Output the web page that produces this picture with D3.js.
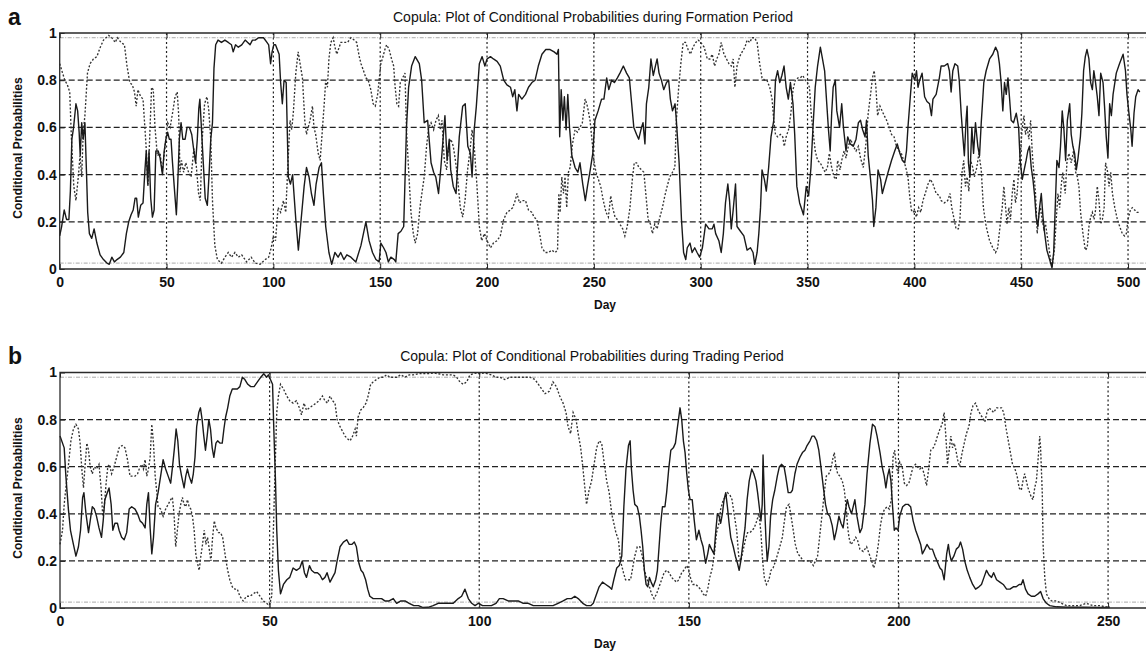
<!DOCTYPE html>
<html>
<head>
<meta charset="utf-8">
<script src="https://cdn.jsdelivr.net/npm/d3@7"></script>
<style>
  html, body { margin: 0; padding: 0; background: #fff; }
  svg { display: block; }
  text { font-family: "Liberation Sans", Arial, Helvetica, sans-serif; fill: #111; }
</style>
</head>
<body>
<svg id="chart" width="1146" height="654"></svg>
<script>
// ---------------- DATA ----------------
const titleA = "Copula: Plot of Conditional Probabilities during Formation Period";
const titleB = "Copula: Plot of Conditional Probabilities during Trading Period";
const yLabel = "Conditional Probabilities";
const xLabel = "Day";
const yTicks = [0, 0.2, 0.4, 0.6, 0.8, 1];
const yTickLabels = ["0", "0.2", "0.4", "0.6", "0.8", "1"];
const xTicksA = [0, 50, 100, 150, 200, 250, 300, 350, 400, 450, 500];
const xTicksB = [0, 50, 100, 150, 200, 250];
const bandLevels = [0.025, 0.98];

// Panel a: [day, probability]
const aSolid = [[0,0.14],[0.9,0.18],[2.1,0.25],[3.2,0.21],[4.3,0.21],[5,0.33],[5.7,0.55],[6.5,0.6],[7.6,0.7],[8.4,0.67],[9.1,0.58],[9.6,0.48],[10.3,0.62],[11,0.55],[11.8,0.62],[12.5,0.42],[13.1,0.24],[13.9,0.15],[15,0.13],[16.1,0.17],[17.4,0.11],[18.9,0.06],[20.5,0.04],[22.1,0.025],[23.2,0.02],[24.4,0.05],[25.6,0.03],[26.8,0.04],[28.4,0.05],[30,0.07],[31.2,0.15],[32.3,0.2],[33.4,0.23],[34.4,0.25],[35.3,0.3],[36,0.3],[36.8,0.22],[37.9,0.27],[39,0.28],[39.9,0.42],[40.5,0.5],[41.2,0.36],[41.8,0.5],[42.6,0.3],[43.4,0.22],[44.2,0.25],[45,0.5],[46.1,0.5],[47,0.47],[48.1,0.4],[48.9,0.5],[49.7,0.55],[50.5,0.58],[51.3,0.55],[52.1,0.55],[52.8,0.45],[53.6,0.35],[54.6,0.23],[55.2,0.35],[56,0.55],[56.8,0.62],[57.6,0.55],[58.7,0.55],[59.6,0.6],[60.7,0.6],[61.8,0.57],[62.8,0.5],[63.6,0.45],[64.4,0.55],[65.1,0.68],[65.6,0.72],[66.2,0.62],[67.2,0.45],[68.1,0.3],[69.1,0.27],[69.9,0.4],[70.7,0.55],[71.5,0.62],[72.2,0.85],[73,0.95],[74.1,0.97],[75.7,0.96],[77.3,0.97],[78.9,0.96],[80.4,0.95],[81.2,0.92],[82.3,0.95],[83.6,0.94],[85.2,0.95],[86.8,0.97],[88,0.96],[89.1,0.95],[90.2,0.97],[91.5,0.97],[93.1,0.98],[95.4,0.98],[97,0.96],[97.8,0.95],[98.7,0.87],[99.4,0.92],[100.2,0.95],[101,0.95],[102.7,0.91],[103.4,0.79],[104.2,0.7],[105,0.8],[106,0.79],[107,0.39],[108,0.36],[109,0.4],[110.5,0.21],[111.7,0.08],[113,0.21],[114.4,0.35],[115.5,0.43],[116.7,0.39],[117.8,0.32],[119,0.27],[120,0.36],[121.4,0.43],[122.5,0.45],[123.4,0.32],[124.5,0.18],[126,0.07],[127.3,0.02],[128.8,0.07],[130.3,0.05],[131.5,0.07],[133,0.04],[134.4,0.06],[136.3,0.05],[138.6,0.03],[141,0.1],[143.3,0.2],[144.8,0.12],[146.4,0.07],[148,0.04],[149.5,0.03],[150.3,0.11],[151.6,0.09],[152.7,0.07],[153.8,0.03],[155,0.05],[156.6,0.04],[157.3,0.03],[158.4,0.15],[159.7,0.16],[161,0.18],[162.3,0.6],[163.3,0.77],[164.7,0.86],[166.4,0.9],[168.3,0.87],[169.4,0.8],[170.6,0.62],[172.2,0.63],[173.8,0.45],[175,0.41],[176,0.39],[177.3,0.32],[178.4,0.43],[179.5,0.56],[180.3,0.65],[181.3,0.46],[182.3,0.55],[183,0.42],[184.2,0.35],[185.5,0.32],[187,0.56],[188.6,0.69],[189.8,0.7],[191,0.52],[192.2,0.49],[193,0.39],[194,0.59],[195,0.69],[196.4,0.87],[197.7,0.9],[199,0.86],[200,0.89],[201.6,0.9],[203,0.89],[204.7,0.88],[206.2,0.86],[207.8,0.8],[209.3,0.78],[211,0.77],[212,0.73],[213,0.76],[214,0.67],[214.8,0.74],[216.3,0.72],[218,0.74],[219.4,0.77],[221,0.79],[222.5,0.8],[224,0.86],[225.7,0.91],[227.5,0.93],[229.5,0.93],[231.4,0.92],[232.7,0.91],[233.4,0.93],[234,0.56],[234.7,0.76],[235.5,0.63],[236.2,0.73],[237,0.59],[237.8,0.74],[238.6,0.6],[239.7,0.48],[241.2,0.43],[242.5,0.41],[243.5,0.45],[244.8,0.36],[246,0.29],[247,0.35],[248.3,0.42],[249.5,0.49],[250.5,0.63],[252,0.67],[253.6,0.72],[254.7,0.72],[256,0.81],[257,0.76],[258.3,0.8],[259.6,0.79],[261,0.81],[262.2,0.83],[263.8,0.86],[265.3,0.83],[266.6,0.81],[267.7,0.7],[268.7,0.6],[270,0.57],[271,0.55],[272.3,0.6],[273,0.62],[273.9,0.53],[274.6,0.7],[275.7,0.77],[276.7,0.89],[277.8,0.82],[278.8,0.86],[279.6,0.89],[280.5,0.83],[281.6,0.8],[282.7,0.76],[284,0.79],[285,0.8],[285.8,0.72],[286.8,0.67],[288,0.7],[288.6,0.63],[289.9,0.45],[291,0.21],[292,0.07],[293,0.04],[293.7,0.09],[295,0.11],[296,0.07],[297.2,0.09],[298.3,0.07],[299.5,0.05],[300.8,0.09],[302.3,0.19],[303.9,0.17],[305.4,0.17],[306.2,0.19],[307,0.15],[308.5,0.12],[309.6,0.07],[310.6,0.15],[311.6,0.28],[312.7,0.36],[313.5,0.29],[314.3,0.17],[315.2,0.25],[316.3,0.36],[317,0.18],[318.6,0.16],[320.2,0.14],[321.7,0.08],[323.3,0.09],[324.5,0.07],[325.3,0.02],[326.4,0.07],[327.2,0.15],[328,0.26],[328.7,0.42],[329.8,0.38],[330.7,0.33],[331.8,0.43],[332.9,0.56],[334.2,0.63],[335,0.8],[336,0.84],[337,0.79],[338,0.82],[339,0.86],[340,0.77],[341,0.72],[342,0.79],[343.2,0.7],[344,0.57],[345,0.35],[346.3,0.28],[347.4,0.25],[348.1,0.23],[349.4,0.35],[350.5,0.31],[351.6,0.43],[352.5,0.59],[353.6,0.77],[354.7,0.86],[356,0.94],[357,0.89],[358,0.84],[359,0.7],[359.8,0.59],[360.6,0.5],[361.3,0.66],[362,0.77],[363,0.8],[363.7,0.67],[365,0.6],[366,0.7],[366.8,0.6],[368,0.5],[368.8,0.56],[370,0.53],[371.4,0.52],[372.7,0.55],[373.8,0.62],[374.8,0.63],[375.8,0.59],[376.9,0.56],[377.6,0.63],[378.4,0.48],[379.5,0.38],[380.4,0.29],[381,0.18],[382,0.26],[383,0.42],[384.2,0.38],[385,0.32],[386.2,0.36],[387.7,0.41],[389.3,0.46],[390.8,0.5],[392,0.53],[393.2,0.49],[394.4,0.46],[395.5,0.45],[396.3,0.5],[397,0.6],[398.1,0.73],[399,0.83],[400.2,0.8],[401,0.84],[401.7,0.77],[402.5,0.8],[403.6,0.83],[404.8,0.73],[405.9,0.71],[407.1,0.7],[408,0.65],[408.7,0.72],[410.2,0.74],[411.7,0.81],[412.5,0.86],[414,0.86],[415.6,0.87],[416.4,0.84],[417.2,0.75],[418,0.84],[419,0.87],[420.3,0.86],[421,0.8],[421.9,0.66],[422.7,0.56],[423.4,0.48],[424.2,0.63],[424.7,0.69],[425.3,0.45],[426,0.39],[426.9,0.6],[427.7,0.49],[428.6,0.62],[429.7,0.52],[430.5,0.48],[431.3,0.62],[432.5,0.79],[433.6,0.84],[435.2,0.89],[436.7,0.91],[438,0.94],[439,0.92],[439.8,0.87],[440.6,0.79],[441.4,0.67],[442.2,0.79],[443,0.74],[443.8,0.81],[444.5,0.73],[445.3,0.63],[446.4,0.62],[447.7,0.66],[448.8,0.6],[449.5,0.46],[450.5,0.38],[451.6,0.43],[452.3,0.46],[453.1,0.5],[453.9,0.52],[454.7,0.43],[455.5,0.38],[456.3,0.31],[457,0.22],[457.8,0.18],[458.6,0.26],[459.4,0.32],[460.2,0.22],[461,0.15],[462,0.08],[463.3,0.04],[464.4,0.005],[465.2,0.07],[466,0.28],[466.7,0.46],[467.7,0.43],[468.4,0.52],[469.2,0.67],[470,0.59],[470.8,0.46],[471.6,0.63],[472.7,0.7],[473.4,0.57],[474.2,0.52],[475,0.49],[475.8,0.42],[476.6,0.47],[477.7,0.56],[478.4,0.66],[479.2,0.84],[480,0.9],[480.8,0.93],[481.7,0.89],[482.5,0.79],[483.3,0.76],[484,0.84],[484.8,0.79],[485.6,0.73],[486.4,0.65],[487.2,0.83],[488.3,0.79],[489,0.69],[489.8,0.56],[490.6,0.47],[491.4,0.7],[492.2,0.65],[493,0.74],[494.5,0.83],[496,0.87],[497.7,0.91],[498.8,0.84],[499.5,0.74],[500.3,0.67],[501.3,0.59],[501.9,0.52],[502.8,0.66],[503.6,0.73],[504.7,0.76],[505.5,0.75]];

const aDotted = [[0,0.87],[1,0.84],[2.4,0.8],[3.6,0.78],[4.7,0.75],[5.5,0.55],[6.6,0.35],[7.6,0.29],[8.7,0.39],[9.5,0.48],[10.3,0.39],[11,0.58],[11.8,0.65],[13,0.83],[14.2,0.87],[15.8,0.89],[17.4,0.9],[19,0.94],[20.5,0.97],[22.9,0.99],[24.4,0.98],[26,0.96],[27,0.98],[28.7,0.96],[30.3,0.95],[31.5,0.86],[32.8,0.79],[34,0.78],[35,0.75],[35.8,0.69],[36.6,0.76],[37.9,0.73],[39,0.72],[40,0.58],[40.5,0.51],[41.3,0.35],[42,0.53],[43,0.77],[43.8,0.76],[44.6,0.6],[45.7,0.48],[47,0.49],[48,0.41],[49.2,0.51],[50.5,0.62],[51.7,0.6],[52.8,0.66],[54,0.73],[55,0.75],[55.7,0.65],[56.3,0.41],[57,0.46],[58,0.41],[59,0.45],[60.3,0.41],[61.5,0.39],[62.8,0.51],[63.9,0.44],[65,0.32],[65.8,0.29],[66.7,0.55],[67.8,0.7],[68.9,0.73],[69.7,0.68],[70.7,0.55],[71.5,0.29],[72.6,0.1],[73.8,0.04],[75.7,0.025],[77.3,0.05],[78.9,0.07],[80.4,0.05],[82,0.07],[83.6,0.05],[85.2,0.06],[87.5,0.03],[89.6,0.05],[91.5,0.025],[93.8,0.02],[96.2,0.04],[97.8,0.05],[99,0.09],[100,0.14],[101,0.12],[102.2,0.26],[103.4,0.24],[104.7,0.29],[105.8,0.24],[106.9,0.46],[107.8,0.63],[108.6,0.59],[109.4,0.67],[110.5,0.83],[111.6,0.92],[112.5,0.87],[113.6,0.81],[114.7,0.63],[115.5,0.57],[116.3,0.6],[117.2,0.63],[118.3,0.69],[119,0.6],[119.8,0.57],[121,0.49],[121.9,0.46],[122.7,0.56],[123.8,0.7],[124.5,0.8],[125.3,0.77],[126,0.89],[126.9,0.96],[128,0.98],[128.8,0.94],[129.7,0.91],[130.8,0.94],[131.6,0.96],[133.1,0.96],[134.7,0.96],[136.3,0.98],[137.8,0.97],[139,0.96],[140.2,0.9],[141,0.87],[142.2,0.84],[143.3,0.81],[144.4,0.8],[145.6,0.76],[146.7,0.7],[147.7,0.69],[148.8,0.74],[149.5,0.8],[150.3,0.87],[151,0.89],[152.2,0.93],[153,0.95],[154.2,0.93],[155.3,0.89],[156.3,0.86],[157,0.77],[157.8,0.7],[158.6,0.69],[159.4,0.79],[160.5,0.81],[161.6,0.83],[162.3,0.59],[163.3,0.42],[164.4,0.24],[165.5,0.15],[166.4,0.11],[167.5,0.15],[168.6,0.26],[169.5,0.32],[170.6,0.39],[171.7,0.52],[172.7,0.6],[173.8,0.62],[175,0.59],[176.1,0.63],[177.2,0.65],[178.1,0.59],[178.9,0.63],[180,0.46],[181.1,0.42],[182,0.52],[183.1,0.55],[184.2,0.52],[185.2,0.46],[186.3,0.38],[187.5,0.26],[188.6,0.22],[189.7,0.29],[190.9,0.42],[192,0.5],[193,0.59],[194,0.52],[195.3,0.35],[196.4,0.18],[197.5,0.12],[198.8,0.15],[200,0.12],[201.6,0.09],[203,0.11],[204.7,0.12],[206.2,0.14],[207.8,0.21],[209.3,0.24],[210.9,0.25],[212,0.26],[213.2,0.29],[214,0.32],[215.2,0.28],[216.3,0.29],[218,0.29],[219.4,0.25],[221,0.24],[222,0.22],[223.3,0.21],[224.6,0.15],[225.7,0.09],[227.2,0.07],[228.8,0.07],[230.3,0.08],[231.9,0.07],[233,0.08],[233.6,0.32],[234.2,0.24],[235,0.39],[235.8,0.32],[236.5,0.39],[237.3,0.26],[238.1,0.41],[238.9,0.43],[240,0.53],[241.2,0.59],[242.3,0.58],[243.5,0.6],[244.6,0.62],[245.9,0.72],[246.7,0.7],[247.4,0.67],[248.2,0.63],[249.3,0.53],[250,0.46],[251,0.41],[252.1,0.38],[253.2,0.35],[254.4,0.29],[255.7,0.24],[256.8,0.22],[257.9,0.31],[258.8,0.26],[259.9,0.22],[261,0.21],[262.2,0.19],[263.5,0.17],[264.5,0.14],[265.6,0.18],[266.9,0.26],[268,0.38],[268.9,0.45],[270,0.45],[271.1,0.43],[272.3,0.42],[273.4,0.41],[274.3,0.32],[275.4,0.21],[276.5,0.19],[277.4,0.15],[278.5,0.19],[279.6,0.17],[280.9,0.22],[282.1,0.26],[283.2,0.31],[284.3,0.35],[285.5,0.39],[286.8,0.41],[287.9,0.43],[288.6,0.63],[289.7,0.77],[290.7,0.87],[291.8,0.96],[292.9,0.96],[294.1,0.93],[295.2,0.91],[296.4,0.94],[297.7,0.96],[298.8,0.97],[300,0.96],[301.6,0.94],[303.1,0.89],[304.3,0.89],[305.4,0.91],[306.5,0.86],[307.5,0.89],[308.5,0.91],[309.6,0.96],[310.9,0.91],[312.1,0.89],[313.2,0.87],[314.3,0.86],[315.2,0.89],[316,0.77],[317,0.86],[318.2,0.9],[319.4,0.92],[320.7,0.94],[321.7,0.97],[323,0.96],[324,0.98],[325.2,0.98],[326.4,0.96],[327.6,0.87],[328.7,0.81],[330,0.8],[331,0.8],[332.3,0.77],[333.4,0.72],[334.2,0.63],[335,0.57],[336,0.56],[337.3,0.57],[338.4,0.56],[339.1,0.52],[340,0.56],[341.1,0.59],[342.2,0.66],[343.2,0.76],[344.3,0.8],[345.5,0.81],[346.6,0.81],[347.8,0.82],[348.9,0.8],[350,0.79],[350.9,0.77],[351.7,0.66],[352.5,0.59],[353.6,0.5],[354.7,0.46],[355.9,0.45],[357.1,0.43],[358.2,0.41],[359.3,0.43],[360.2,0.49],[361.3,0.43],[362.4,0.39],[363.4,0.38],[364.1,0.46],[365.2,0.42],[366,0.46],[367.1,0.5],[368,0.47],[369.1,0.52],[370.2,0.55],[371.4,0.52],[372.7,0.5],[373.8,0.52],[374.8,0.47],[376.1,0.43],[377.3,0.53],[378.4,0.66],[379.5,0.74],[380.4,0.81],[381.2,0.84],[382,0.77],[382.8,0.65],[383.9,0.69],[384.9,0.67],[385.9,0.65],[387,0.63],[388.2,0.6],[389.3,0.57],[390.5,0.56],[391.6,0.52],[392.9,0.5],[393.9,0.49],[395,0.46],[396,0.43],[397,0.39],[397.8,0.31],[398.6,0.25],[399.4,0.24],[400.2,0.25],[400.9,0.22],[402,0.26],[403,0.24],[404,0.29],[405.1,0.32],[406.4,0.36],[407.5,0.38],[408.7,0.36],[410.2,0.32],[411.8,0.31],[412.5,0.29],[414,0.28],[415.6,0.29],[416.7,0.32],[417.5,0.26],[418.4,0.22],[419.5,0.17],[420.6,0.17],[421.4,0.22],[422.3,0.41],[423.1,0.46],[423.9,0.35],[424.7,0.39],[425.5,0.33],[426.3,0.46],[427.3,0.43],[428.1,0.39],[429.2,0.43],[430.2,0.49],[431.3,0.42],[432.3,0.26],[433.6,0.18],[435.2,0.12],[436.7,0.09],[438,0.07],[439,0.09],[440.2,0.19],[441.1,0.26],[441.9,0.35],[442.7,0.26],[443.4,0.19],[444.2,0.26],[445,0.21],[445.8,0.32],[446.6,0.38],[447.3,0.28],[448.1,0.32],[448.9,0.43],[449.7,0.5],[450.5,0.6],[451.3,0.65],[452,0.57],[452.8,0.6],[453.6,0.55],[454.4,0.63],[455.2,0.49],[455.9,0.41],[456.7,0.32],[457.5,0.15],[458.3,0.24],[459,0.26],[459.8,0.21],[460.6,0.17],[461.4,0.19],[462.5,0.12],[463.6,0.05],[464.5,0.01],[465.6,0.09],[466.4,0.21],[467.2,0.32],[468,0.26],[468.8,0.36],[469.5,0.41],[470.6,0.32],[471.4,0.45],[472.3,0.49],[473.4,0.45],[474.5,0.5],[475.5,0.41],[476.3,0.39],[477,0.35],[477.8,0.24],[478.9,0.15],[480,0.08],[480.9,0.09],[481.7,0.18],[482.5,0.22],[483.3,0.24],[484.1,0.21],[484.8,0.25],[485.6,0.35],[486.4,0.29],[487.2,0.19],[488,0.21],[488.8,0.26],[489.5,0.45],[490.3,0.42],[491.1,0.35],[491.9,0.41],[492.7,0.32],[493.8,0.26],[495,0.21],[496.1,0.18],[497.3,0.15],[498.4,0.14],[499.2,0.15],[500,0.21],[501.1,0.25],[502,0.26],[503.1,0.25],[504.2,0.24],[505.2,0.24]];

// Panel b: [day, probability]
const bSolid = [[0,0.73],[1,0.68],[1.4,0.56],[2,0.42],[2.5,0.33],[3.2,0.27],[3.8,0.22],[4.4,0.26],[4.9,0.33],[5.4,0.47],[5.7,0.49],[6.2,0.4],[6.8,0.32],[7.2,0.37],[7.7,0.43],[8.2,0.42],[8.7,0.39],[9.3,0.34],[9.9,0.3],[10.3,0.37],[10.7,0.46],[11.3,0.49],[11.7,0.51],[12.2,0.44],[12.6,0.33],[13.1,0.36],[13.7,0.36],[14.1,0.33],[14.7,0.3],[15.3,0.29],[15.9,0.32],[16.5,0.42],[17.1,0.43],[17.9,0.42],[18.5,0.4],[19.1,0.37],[19.7,0.36],[20.3,0.34],[20.7,0.44],[21.1,0.49],[21.5,0.34],[21.9,0.23],[22.3,0.3],[22.8,0.44],[23.4,0.49],[24,0.56],[24.6,0.63],[25.2,0.59],[25.8,0.56],[26.4,0.53],[26.9,0.61],[27.3,0.68],[27.7,0.76],[28.1,0.71],[28.5,0.61],[29,0.56],[29.6,0.51],[30,0.56],[30.4,0.59],[30.8,0.56],[31.4,0.53],[31.8,0.57],[32.2,0.64],[32.6,0.77],[33.1,0.83],[33.5,0.85],[33.9,0.8],[34.3,0.73],[34.7,0.67],[35.1,0.73],[35.5,0.8],[35.9,0.76],[36.3,0.68],[36.7,0.64],[37.2,0.7],[37.6,0.71],[38.2,0.7],[38.7,0.7],[39.1,0.76],[39.5,0.81],[40,0.85],[40.5,0.9],[41.1,0.93],[41.7,0.93],[42.3,0.93],[42.9,0.94],[43.5,0.98],[44.1,0.97],[44.8,0.95],[45.5,0.94],[46.3,0.94],[47.1,0.96],[47.9,0.98],[48.6,0.995],[49.3,0.98],[49.7,0.99],[50.2,0.97],[50.7,0.95],[51,0.76],[51.4,0.54],[51.7,0.33],[52.1,0.16],[52.6,0.06],[53.3,0.1],[54.1,0.12],[54.8,0.13],[55.6,0.17],[56.4,0.16],[57.2,0.17],[57.8,0.2],[58.3,0.15],[58.8,0.13],[59.5,0.18],[60,0.16],[60.7,0.15],[61.4,0.15],[62,0.14],[62.6,0.12],[63.2,0.13],[63.7,0.15],[64.4,0.11],[65,0.13],[65.6,0.15],[66.1,0.2],[66.8,0.26],[67.6,0.28],[68.4,0.29],[69,0.27],[69.6,0.27],[70.2,0.28],[70.7,0.26],[71.3,0.19],[71.8,0.16],[72.3,0.15],[72.9,0.12],[73.4,0.08],[73.9,0.05],[74.7,0.04],[75.7,0.04],[76.7,0.04],[77.5,0.03],[78.5,0.03],[79.5,0.04],[80.3,0.02],[81.3,0.03],[82.3,0.03],[83.3,0.02],[84.4,0.01],[85.5,0.01],[86.6,0.002],[87.8,0.003],[89,0.01],[90.2,0.02],[91.4,0.02],[92.6,0.02],[93.8,0.02],[95,0.04],[95.8,0.05],[96.6,0.08],[97.4,0.04],[98.2,0.02],[99,0.01],[99.8,0.02],[100.8,0.01],[101.8,0.01],[102.9,0.01],[104,0.02],[104.8,0.04],[105.7,0.04],[106.9,0.03],[108.1,0.03],[109.3,0.03],[110.5,0.02],[111.7,0.02],[112.9,0.01],[114.1,0.01],[115.3,0.01],[116.5,0.01],[117.6,0.01],[118.8,0.02],[120,0.03],[121,0.04],[122,0.04],[122.8,0.05],[123.6,0.04],[124.7,0.02],[125.6,0.01],[126.6,0.01],[127.2,0.02],[127.8,0.05],[128.6,0.09],[129.4,0.11],[130.2,0.1],[131,0.09],[131.6,0.08],[132.1,0.12],[132.8,0.17],[133.4,0.18],[134,0.22],[134.5,0.43],[135,0.59],[135.6,0.69],[136,0.71],[136.3,0.59],[136.7,0.5],[137.1,0.44],[137.7,0.43],[138.2,0.39],[138.6,0.33],[139,0.26],[139.4,0.16],[139.8,0.1],[140.2,0.09],[140.6,0.13],[141,0.11],[141.5,0.09],[142.1,0.12],[142.5,0.16],[142.9,0.26],[143.3,0.36],[143.7,0.43],[144.3,0.43],[144.7,0.49],[145.2,0.59],[145.7,0.67],[146.3,0.68],[146.8,0.7],[147.3,0.77],[147.9,0.85],[148.3,0.8],[148.7,0.71],[149.1,0.66],[149.5,0.57],[149.9,0.5],[150.3,0.46],[150.8,0.46],[151.3,0.37],[151.8,0.29],[152.4,0.33],[152.9,0.29],[153.4,0.26],[154,0.19],[154.5,0.23],[154.9,0.27],[155.4,0.25],[156,0.23],[156.4,0.32],[156.8,0.4],[157.2,0.39],[157.6,0.36],[158,0.4],[158.4,0.46],[158.8,0.49],[159.2,0.43],[159.6,0.36],[160,0.3],[160.6,0.26],[161.1,0.22],[161.6,0.19],[162,0.16],[162.4,0.2],[162.8,0.26],[163.4,0.34],[163.9,0.46],[164.4,0.54],[165,0.59],[165.5,0.57],[166,0.54],[166.4,0.49],[166.8,0.43],[167.2,0.37],[167.5,0.44],[167.7,0.65],[168.1,0.42],[168.4,0.29],[168.7,0.2],[169.1,0.26],[169.5,0.39],[170,0.46],[170.5,0.5],[171.1,0.56],[171.6,0.6],[172.1,0.61],[172.7,0.6],[173.1,0.56],[173.7,0.49],[174.3,0.49],[174.7,0.5],[175.3,0.57],[175.8,0.61],[176.5,0.64],[177.1,0.66],[177.7,0.67],[178.2,0.69],[178.9,0.71],[179.4,0.73],[179.9,0.73],[180.5,0.71],[181,0.67],[181.5,0.6],[182.1,0.51],[182.6,0.44],[183.1,0.4],[183.6,0.39],[184.2,0.35],[184.7,0.29],[185.2,0.33],[185.8,0.39],[186.3,0.36],[186.8,0.34],[187.4,0.42],[187.8,0.46],[188.2,0.43],[188.8,0.4],[189.6,0.46],[190.1,0.39],[190.8,0.32],[191.3,0.34],[192,0.44],[192.5,0.57],[193.2,0.7],[193.8,0.78],[194.4,0.77],[194.9,0.73],[195.6,0.66],[196.1,0.6],[196.6,0.56],[197,0.51],[197.4,0.56],[197.8,0.59],[198.2,0.54],[198.6,0.43],[199,0.33],[199.4,0.34],[199.9,0.33],[200.3,0.39],[201,0.43],[201.7,0.44],[202.3,0.44],[202.9,0.43],[203.5,0.37],[204.1,0.33],[204.7,0.3],[205.3,0.27],[205.7,0.23],[206.3,0.25],[206.8,0.27],[207.5,0.25],[208.1,0.25],[208.7,0.22],[209.2,0.2],[209.9,0.17],[210.4,0.16],[210.9,0.12],[211.5,0.23],[211.9,0.27],[212.2,0.23],[212.6,0.2],[213.2,0.22],[213.8,0.25],[214.4,0.26],[214.8,0.28],[215.3,0.25],[215.8,0.2],[216.4,0.16],[217,0.13],[217.7,0.1],[218.4,0.08],[219.2,0.09],[219.8,0.1],[220.4,0.13],[221,0.16],[221.6,0.14],[222.2,0.13],[222.7,0.15],[223.4,0.12],[224.2,0.11],[225,0.1],[225.8,0.08],[226.6,0.08],[227.4,0.09],[228.1,0.09],[228.8,0.1],[229.3,0.1],[229.7,0.12],[230.3,0.08],[230.9,0.06],[231.7,0.05],[232.5,0.05],[233.3,0.06],[233.9,0.07],[234.5,0.04],[235.3,0.02],[236.1,0.01],[237.7,0.005],[240.1,0.003],[244,0.003],[248,0.002],[250.4,0.002]];

const bDotted = [[0,0.27],[0.6,0.33],[1,0.44],[1.4,0.51],[1.8,0.57],[2.2,0.64],[2.6,0.71],[3.2,0.76],[3.8,0.78],[4.4,0.76],[4.8,0.7],[5.2,0.59],[5.6,0.51],[6,0.61],[6.4,0.7],[6.8,0.67],[7.2,0.6],[7.7,0.57],[8.2,0.6],[8.7,0.59],[9.3,0.61],[9.8,0.51],[10.2,0.39],[10.6,0.44],[11,0.53],[11.4,0.6],[11.8,0.61],[12.3,0.57],[12.9,0.6],[13.5,0.64],[14.1,0.68],[14.8,0.69],[15.5,0.68],[16.1,0.63],[16.7,0.56],[17.2,0.56],[17.9,0.56],[18.5,0.57],[19.1,0.6],[19.5,0.61],[19.9,0.59],[20.3,0.63],[20.7,0.56],[21.1,0.59],[21.5,0.64],[21.9,0.78],[22.3,0.7],[22.7,0.56],[23.1,0.49],[23.4,0.43],[24,0.42],[24.6,0.39],[25.2,0.42],[25.8,0.44],[26.4,0.46],[26.8,0.47],[27.2,0.4],[27.6,0.26],[28,0.33],[28.4,0.4],[28.8,0.44],[29.2,0.47],[29.6,0.44],[30,0.43],[30.4,0.46],[30.8,0.43],[31.2,0.42],[31.6,0.39],[32,0.33],[32.4,0.23],[32.8,0.19],[33.2,0.16],[33.6,0.22],[34,0.27],[34.4,0.33],[34.8,0.27],[35.2,0.3],[35.6,0.25],[36,0.2],[36.4,0.3],[36.8,0.37],[37.2,0.34],[37.8,0.32],[38.3,0.32],[38.8,0.3],[39.2,0.25],[39.6,0.2],[40,0.16],[40.5,0.12],[41.1,0.09],[41.7,0.08],[42.3,0.08],[42.9,0.05],[43.7,0.03],[44.5,0.05],[45.3,0.05],[46.1,0.06],[46.9,0.07],[47.7,0.05],[48.5,0.03],[49.3,0.02],[49.9,0.01],[50.5,0.05],[50.9,0.33],[51.3,0.59],[51.7,0.83],[52.1,0.9],[52.6,0.95],[53.3,0.93],[54.1,0.9],[54.8,0.88],[55.6,0.87],[56.4,0.88],[57.1,0.85],[57.6,0.82],[58.2,0.87],[58.8,0.84],[59.5,0.85],[60.3,0.86],[61.1,0.87],[61.8,0.88],[62.6,0.9],[63.2,0.88],[63.8,0.87],[64.4,0.9],[65,0.88],[65.6,0.87],[66.1,0.8],[66.8,0.77],[67.4,0.75],[68,0.73],[68.5,0.72],[69.2,0.71],[69.8,0.73],[70.4,0.76],[70.7,0.73],[71.1,0.81],[71.7,0.84],[72.3,0.85],[73,0.87],[73.5,0.9],[74.1,0.95],[74.7,0.96],[75.5,0.97],[76.3,0.98],[77.1,0.98],[77.9,0.99],[78.7,0.98],[79.5,0.98],[80.3,0.98],[81.3,0.99],[82.3,0.98],[83.3,0.99],[84.3,0.99],[85.5,0.995],[86.6,0.995],[87.8,0.995],[89,0.998],[90.2,0.995],[91.4,0.99],[92.6,0.99],[93.8,0.99],[94.6,0.98],[95.4,0.96],[96.2,0.95],[97,0.96],[97.8,0.99],[98.6,0.995],[99.4,0.998],[100.2,0.995],[101,0.998],[101.9,0.995],[102.9,0.99],[104,0.98],[104.9,0.98],[106.1,0.97],[107.3,0.98],[108.5,0.98],[109.7,0.98],[110.9,0.98],[112.1,0.98],[113.3,0.97],[114.5,0.94],[115.7,0.91],[116.7,0.92],[117.6,0.96],[118.4,0.94],[119.2,0.9],[120,0.87],[120.7,0.83],[121.2,0.77],[121.8,0.74],[122.4,0.83],[123.1,0.8],[123.6,0.74],[124.2,0.68],[124.7,0.6],[125.2,0.51],[125.6,0.44],[126.2,0.5],[126.8,0.54],[127.4,0.61],[128,0.68],[128.6,0.71],[129.2,0.7],[129.7,0.63],[130.4,0.54],[131,0.49],[131.6,0.4],[132.1,0.36],[132.6,0.32],[133.2,0.29],[133.7,0.2],[134.4,0.15],[134.9,0.12],[135.5,0.12],[136.1,0.12],[136.6,0.17],[137.1,0.22],[137.7,0.26],[138.3,0.26],[138.9,0.22],[139.4,0.16],[139.9,0.13],[140.6,0.09],[141.1,0.06],[141.7,0.04],[142.3,0.06],[142.9,0.09],[143.5,0.12],[144.1,0.15],[144.7,0.16],[145.3,0.15],[145.9,0.13],[146.4,0.12],[147.1,0.11],[147.6,0.12],[148.3,0.15],[148.8,0.16],[149.5,0.18],[150,0.16],[150.5,0.12],[151,0.1],[151.7,0.1],[152.2,0.09],[152.8,0.08],[153.4,0.06],[154,0.05],[154.5,0.08],[155,0.13],[155.6,0.17],[156.1,0.23],[156.6,0.32],[157.2,0.36],[157.6,0.42],[158.2,0.46],[158.8,0.47],[159.2,0.49],[159.8,0.48],[160.3,0.46],[160.8,0.4],[161.4,0.33],[161.9,0.22],[162.4,0.2],[163,0.25],[163.5,0.29],[164,0.32],[164.6,0.32],[165.1,0.33],[165.6,0.34],[166.2,0.37],[166.7,0.4],[167.2,0.32],[167.6,0.2],[168,0.13],[168.5,0.1],[169.1,0.12],[169.6,0.16],[170.1,0.17],[170.7,0.2],[171.2,0.23],[171.7,0.26],[172.3,0.3],[172.8,0.37],[173.3,0.43],[173.9,0.44],[174.3,0.4],[174.9,0.33],[175.4,0.27],[176,0.23],[176.5,0.22],[177.3,0.2],[178.1,0.2],[178.9,0.2],[179.7,0.18],[180.2,0.2],[180.7,0.22],[181.3,0.32],[181.8,0.4],[182.3,0.49],[182.8,0.56],[183.4,0.57],[183.9,0.59],[184.3,0.63],[184.7,0.66],[185.1,0.6],[185.5,0.57],[186,0.56],[186.6,0.54],[187.1,0.5],[187.5,0.43],[187.9,0.34],[188.2,0.3],[188.6,0.27],[189.2,0.28],[189.8,0.3],[190.2,0.29],[190.8,0.25],[191.6,0.24],[192.4,0.26],[193,0.23],[193.6,0.2],[194.1,0.17],[194.6,0.2],[195.2,0.27],[195.7,0.35],[196.2,0.4],[196.7,0.42],[197.3,0.43],[197.8,0.42],[198.3,0.46],[198.7,0.64],[199.1,0.67],[199.5,0.6],[199.9,0.57],[200.3,0.62],[200.9,0.6],[201.4,0.53],[201.9,0.52],[202.5,0.53],[202.9,0.56],[203.5,0.6],[204.1,0.61],[204.5,0.6],[205.1,0.59],[205.6,0.6],[206.1,0.57],[206.7,0.52],[207.2,0.59],[207.7,0.67],[208.3,0.68],[208.8,0.7],[209.3,0.73],[209.9,0.76],[210.4,0.78],[210.9,0.83],[211.3,0.73],[211.7,0.61],[212.1,0.67],[212.5,0.73],[212.9,0.68],[213.3,0.7],[213.7,0.67],[214.1,0.63],[214.6,0.6],[215.2,0.66],[215.7,0.7],[216.2,0.74],[216.8,0.77],[217.3,0.83],[217.8,0.86],[218.4,0.87],[219,0.84],[219.6,0.82],[220,0.81],[220.6,0.79],[221.1,0.83],[221.6,0.85],[222.2,0.84],[222.7,0.83],[223.4,0.85],[224,0.85],[224.6,0.85],[225.1,0.83],[225.6,0.77],[226.2,0.71],[226.7,0.66],[227.2,0.61],[227.8,0.59],[228.3,0.56],[228.8,0.51],[229.3,0.5],[229.7,0.54],[230.1,0.57],[230.5,0.54],[230.9,0.51],[231.3,0.49],[231.7,0.47],[232.1,0.46],[232.5,0.51],[232.9,0.54],[233.3,0.63],[233.7,0.73],[233.9,0.68],[234.3,0.49],[234.5,0.27],[234.9,0.13],[235.3,0.06],[235.9,0.04],[236.5,0.03],[237.7,0.03],[238.9,0.02],[240.1,0.01],[241.7,0.01],[243.2,0.01],[244.8,0.02],[246.4,0.01],[248,0.01],[249.6,0.005],[250.4,0.005]];

// ---------------- DRAWING ----------------
const svg = d3.select("#chart");
const FONT = '"Liberation Sans", Arial, Helvetica, sans-serif';

const panels = [
  { letter: "a", title: titleA, solid: aSolid, dotted: aDotted, xTicks: xTicksA,
    xMax: 510, left: 59.7, right: 1149.4, top: 33, bottom: 269,
    letterY: 25, titleX: 593, titleY: 22, xLabX: 605, xLabY: 309, yLabY: 148 },
  { letter: "b", title: titleB, solid: bSolid, dotted: bDotted, xTicks: xTicksB,
    xMax: 260, left: 60, right: 1150, top: 372.5, bottom: 608,
    letterY: 364, titleX: 592, titleY: 361, xLabX: 605, xLabY: 648, yLabY: 488 }
];

panels.forEach(p => {
  const x = d3.scaleLinear().domain([0, p.xMax]).range([p.left, p.right]);
  const y = d3.scaleLinear().domain([0, 1]).range([p.bottom, p.top]);
  const g = svg.append("g");

  // grid: horizontal dashed
  g.append("g").selectAll("line")
    .data(yTicks.filter(v => v > 0 && v < 1))
    .join("line")
    .attr("x1", p.left).attr("x2", p.right)
    .attr("y1", d => y(d)).attr("y2", d => y(d))
    .attr("stroke", "#222").attr("stroke-width", 1.2)
    .attr("stroke-dasharray", "6,3");
  // grid: vertical dotted
  g.append("g").selectAll("line")
    .data(p.xTicks.filter(v => v > 0))
    .join("line")
    .attr("x1", d => x(d)).attr("x2", d => x(d))
    .attr("y1", p.top).attr("y2", p.bottom)
    .attr("stroke", "#222").attr("stroke-width", 1.2)
    .attr("stroke-dasharray", "2,2.5");
  // confidence band lines (light gray)
  g.append("g").selectAll("line")
    .data(bandLevels)
    .join("line")
    .attr("x1", p.left).attr("x2", p.right)
    .attr("y1", d => y(d)).attr("y2", d => y(d))
    .attr("stroke", "#a8a8a8").attr("stroke-width", 1)
    .attr("stroke-dasharray", "4,1.5,1,1.5");

  const line = d3.line().x(d => x(d[0])).y(d => y(d[1]));
  g.append("path").datum(p.dotted)
    .attr("d", line).attr("fill", "none")
    .attr("stroke", "#333").attr("stroke-width", 1.35)
    .attr("stroke-dasharray", "2,1.8");
  g.append("path").datum(p.solid)
    .attr("d", line).attr("fill", "none")
    .attr("stroke", "#1a1a1a").attr("stroke-width", 1.4)
    .attr("stroke-linejoin", "round");

  // axes
  const xAxis = d3.axisBottom(x).tickValues(p.xTicks).tickFormat(d3.format("d"))
    .tickSizeInner(-5).tickSizeOuter(0).tickPadding(8);
  const gx = g.append("g").attr("transform", `translate(0,${p.bottom})`).call(xAxis);
  const xTop = d3.axisTop(x).tickValues(p.xTicks).tickFormat("")
    .tickSizeInner(-5).tickSizeOuter(0);
  const gxt = g.append("g").attr("transform", `translate(0,${p.top})`).call(xTop);
  const yAxis = d3.axisLeft(y).tickValues(yTicks).tickFormat((d, i) => yTickLabels[i])
    .tickSizeInner(-5).tickSizeOuter(0).tickPadding(3);
  const gy = g.append("g").attr("transform", `translate(${p.left},0)`).call(yAxis);
  [gx, gxt, gy].forEach(a => {
    a.select(".domain").remove();
    a.selectAll(".tick line").attr("stroke", "#222").attr("stroke-width", 1);
    a.selectAll(".tick text").attr("font-family", FONT).attr("font-size", 14)
      .attr("font-weight", "bold").attr("fill", "#111");
  });

  // frame
  g.append("path")
    .attr("d", `M${p.right},${p.top}H${p.left}V${p.bottom}H${p.right}`)
    .attr("fill", "none").attr("stroke", "#2a2a2a").attr("stroke-width", 1.3);

  // labels
  g.append("text").attr("x", p.titleX).attr("y", p.titleY)
    .attr("text-anchor", "middle").attr("font-size", 14).text(p.title);
  g.append("text").attr("x", p.xLabX).attr("y", p.xLabY)
    .attr("text-anchor", "middle").attr("font-size", 12).attr("font-weight", "bold").text(xLabel);
  g.append("text").attr("transform", `translate(22,${p.yLabY}) rotate(-90)`)
    .attr("text-anchor", "middle").attr("font-size", 12).attr("font-weight", "bold").text(yLabel);
  g.append("text").attr("x", 8).attr("y", p.letterY)
    .attr("font-size", 23).attr("font-weight", "bold").text(p.letter);
});
</script>
</body>
</html>
